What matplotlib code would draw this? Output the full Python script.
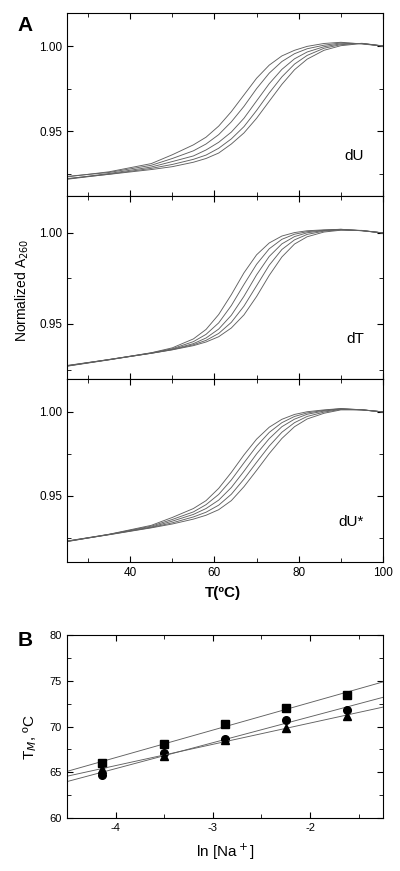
import numpy as np
import matplotlib
matplotlib.use('Agg')
import matplotlib.pyplot as plt
from matplotlib.ticker import MultipleLocator

plt.rcParams['font.family'] = ['Liberation Sans', 'DejaVu Sans']

# melting curves, temperature grid (deg C)
temp = [25, 35, 45, 50, 55, 58, 61, 64, 67, 70, 73, 76, 79, 82, 86, 90, 95, 100]

# dU, five Na+ concentrations
dU_curves = [
    [.9232, .9262, .9310, .9362, .9420, .9465, .9530, .9615, .9713, .9811, .9888, .9942, .9975, .9998, 1.0015, 1.0022, 1.0012, 1.0000],
    [.9235, .9258, .9300, .9340, .9385, .9425, .9480, .9555, .9646, .9750, .9841, .9909, .9955, .9984, 1.0005, 1.0018, 1.0014, 1.0000],
    [.9220, .9252, .9290, .9322, .9355, .9390, .9435, .9495, .9576, .9678, .9779, .9863, .9925, .9965, .9996, 1.0013, 1.0015, 1.0000],
    [.9218, .9248, .9282, .9305, .9335, .9360, .9400, .9455, .9527, .9622, .9725, .9819, .9894, .9945, .9987, 1.0008, 1.0016, 1.0001],
    [.9222, .9247, .9275, .9292, .9318, .9340, .9372, .9425, .9490, .9576, .9676, .9775, .9861, .9923, .9975, 1.0002, 1.0015, 1.0000],
]
# dT
dT_curves = [
    [.9270, .9304, .9342, .9369, .9418, .9470, .9552, .9661, .9781, .9880, .9945, .9983, 1.0002, 1.0012, 1.0017, 1.0020, 1.0012, 1.0000],
    [.9272, .9305, .9341, .9364, .9403, .9443, .9506, .9601, .9717, .9828, .9913, .9965, .9993, 1.0007, 1.0015, 1.0020, 1.0013, 1.0000],
    [.9268, .9303, .9340, .9361, .9392, .9423, .9472, .9548, .9652, .9770, .9871, .9940, .9980, 1.0001, 1.0013, 1.0018, 1.0012, 1.0000],
    [.9271, .9304, .9339, .9359, .9386, .9410, .9448, .9509, .9598, .9710, .9823, .9909, .9962, .9992, 1.0010, 1.0017, 1.0013, 1.0000],
    [.9269, .9305, .9339, .9358, .9381, .9401, .9430, .9478, .9550, .9651, .9767, .9868, .9939, .9979, 1.0005, 1.0015, 1.0014, 1.0000],
]
# dU*
dUs_curves = [
    [.9230, .9272, .9325, .9372, .9425, .9472, .9545, .9640, .9744, .9838, .9909, .9956, .9985, 1.0001, 1.0012, 1.0020, 1.0012, 1.0000],
    [.9228, .9271, .9320, .9360, .9405, .9448, .9509, .9595, .9697, .9796, .9878, .9936, .9973, .9994, 1.0009, 1.0019, 1.0013, 1.0000],
    [.9232, .9271, .9315, .9350, .9390, .9425, .9475, .9550, .9647, .9750, .9841, .9912, .9957, .9986, 1.0005, 1.0017, 1.0012, 1.0000],
    [.9229, .9270, .9312, .9340, .9375, .9403, .9445, .9510, .9600, .9700, .9797, .9879, .9936, .9973, .9999, 1.0015, 1.0013, 1.0000],
    [.9231, .9269, .9310, .9333, .9362, .9385, .9418, .9472, .9555, .9652, .9752, .9842, .9912, .9958, .9992, 1.0012, 1.0012, 1.0000],
]

# panel B: Tm vs ln[Na+]
ln_na = [-4.135, -3.507, -2.877, -2.247, -1.624]
tm_square = [66.0, 68.1, 70.3, 72.0, 73.5]
tm_circle = [64.7, 67.1, 68.6, 70.7, 71.8]
tm_triangle = [65.4, 66.8, 68.5, 69.8, 71.2]

fig = plt.figure(figsize=(4, 8.71), dpi=100)

panels = [
    (dU_curves, 'dU', (0.912, 1.0194), 0.7750),
    (dT_curves, 'dT', (0.9198, 1.0203), 0.5649),
    (dUs_curves, 'dU*', (0.9107, 1.0196), 0.3548),
]
for i, (curves, name, ylim, bottom) in enumerate(panels):
    ax = fig.add_axes([0.1675, bottom, 0.79, 0.2101])
    for c in curves:
        ax.plot(temp, c, color='#606060', lw=0.65)
    ax.set_xlim(25, 100)
    ax.set_ylim(*ylim)
    ax.xaxis.set_major_locator(MultipleLocator(20))
    ax.xaxis.set_minor_locator(MultipleLocator(10))
    ax.yaxis.set_major_locator(MultipleLocator(0.05))
    ax.yaxis.set_minor_locator(MultipleLocator(0.025))
    ax.tick_params(which='both', direction='in', top=True, right=True, labelsize=8.5)
    ax.tick_params(which='major', length=4)
    ax.tick_params(which='minor', length=3)
    ax.yaxis.set_major_formatter(plt.FuncFormatter(lambda v, p: '%.2f' % v))
    if i < 2:
        ax.tick_params(labelbottom=False)
    ax.text(0.94, 0.22, name, transform=ax.transAxes, ha='right', va='center', fontsize=11)

fig.text(0.055, 0.667, 'Normalized A$_{260}$', rotation=90, ha='center', va='center', fontsize=10)
fig.text(0.5575, 0.319, 'T(ºC)', ha='center', va='center', fontsize=11, fontweight='bold')
fig.text(0.062, 0.971, 'A', ha='center', va='center', fontsize=15, fontweight='bold')
fig.text(0.062, 0.265, 'B', ha='center', va='center', fontsize=15, fontweight='bold')

# panel B
axb = fig.add_axes([0.1675, 0.0608, 0.79, 0.2101])
xfit = np.array([-4.5, -1.25])
for vals, mk in [(tm_square, 's'), (tm_circle, 'o'), (tm_triangle, '^')]:
    k, b = np.polyfit(ln_na, vals, 1)
    axb.plot(xfit, k * xfit + b, color='#606060', lw=0.65)
    axb.plot(ln_na, vals, marker=mk, ls='none', color='black', ms=5.5)
axb.set_xlim(-4.5, -1.25)
axb.set_ylim(60, 80)
axb.xaxis.set_major_locator(MultipleLocator(1))
axb.xaxis.set_minor_locator(MultipleLocator(0.5))
axb.yaxis.set_major_locator(MultipleLocator(5))
axb.yaxis.set_minor_locator(MultipleLocator(2.5))
axb.tick_params(which='both', direction='in', top=True, right=True, labelsize=8)
axb.tick_params(which='major', length=4)
axb.tick_params(which='minor', length=3)
axb.xaxis.set_major_formatter(plt.FuncFormatter(lambda v, p: '%d' % v))
fig.text(0.075, 0.154, 'T$_M$, ºC', rotation=90, ha='center', va='center', fontsize=11)
fig.text(0.5625, 0.022, 'ln [Na$^+$]', ha='center', va='center', fontsize=11)

fig.savefig('out.png', dpi=100)
